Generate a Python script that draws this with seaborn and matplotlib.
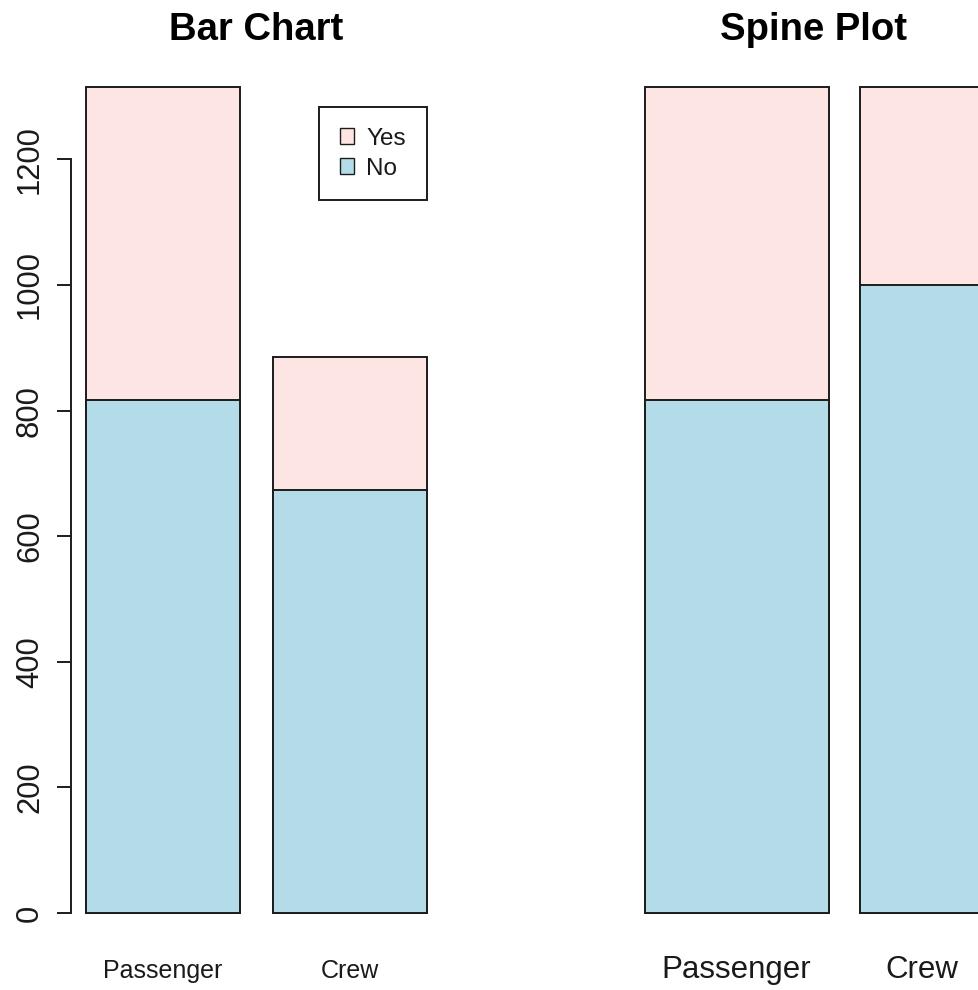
import numpy as np
import pandas as pd
import matplotlib
matplotlib.use("Agg")
import matplotlib.pyplot as plt
import seaborn as sns
from matplotlib.patches import Patch

# ---- data (Titanic: class vs survival) ----
classes = ["Passenger", "Crew"]
survived_no = [817, 673]
survived_yes = [499, 212]
legend_labels = ["Yes", "No"]
y_ticks = [0, 200, 400, 600, 800, 1000, 1200]

PINK = "#FDE5E3"
BLUE = "#B4DCE8"
EDGE = "#1c1c1c"

sns.set_style("white")
plt.rcParams["font.family"] = ["Liberation Sans", "DejaVu Sans"]
plt.rcParams["text.color"] = "black"

W, H = 979, 990
fig = plt.figure(figsize=(W / 100, H / 100), dpi=100)


def px_axes(x0, x1, y0, y1):
    return fig.add_axes([x0 / W, 1 - y1 / H, (x1 - x0) / W, (y1 - y0) / H])


ax1 = px_axes(71.4, 441.6, 53.5, 946)
ax2 = px_axes(631.0, 997, 53.5, 946)

# ---- left: stacked bar chart ----
totals = [n + y for n, y in zip(survived_no, survived_yes)]
df = pd.DataFrame({"Class": classes, "No": survived_no, "Total": totals})
common = dict(saturation=1, width=0.8235, edgecolor=EDGE, linewidth=1.4,
              errorbar=None, ax=ax1)
sns.barplot(data=df, x="Class", y="Total", color=PINK, **common)
sns.barplot(data=df, x="Class", y="No", color=BLUE, **common)
ax1.set_xlim(-0.49, 1.49)
ymax = max(totals)
ax1.set_ylim(-0.04 * ymax, 1.04 * ymax)
ax1.set_xlabel("")
ax1.set_ylabel("")
for s in ["top", "right", "bottom"]:
    ax1.spines[s].set_visible(False)
ax1.spines["left"].set_bounds(y_ticks[0], y_ticks[-1])
ax1.spines["left"].set_linewidth(1.4)
ax1.spines["left"].set_color(EDGE)
ax1.set_yticks(y_ticks)
ax1.set_yticklabels([str(t) for t in y_ticks])
ax1.tick_params(axis="y", length=10, width=1.4, color=EDGE, pad=9,
                labelsize=22.3, labelcolor="#1a1a1a", left=True)
for lab in ax1.get_yticklabels():
    lab.set_rotation(90)
    lab.set_va("center")
ax1.tick_params(axis="x", length=0, pad=9.5, labelsize=18, labelcolor="#1a1a1a")
ax1.set_title("Bar Chart", fontsize=27.5, fontweight="bold", pad=9.7,
              color="black")

handles = [Patch(facecolor=PINK, edgecolor=EDGE, linewidth=1.0),
           Patch(facecolor=BLUE, edgecolor=EDGE, linewidth=1.0)]
leg = ax1.legend(handles, legend_labels, loc="upper left",
                 bbox_to_anchor=(319 / W, 1 - 107 / H),
                 bbox_transform=fig.transFigure, frameon=True, fancybox=False,
                 edgecolor=EDGE, framealpha=1, fontsize=17.5, borderpad=0.85,
                 handlelength=0.6, handleheight=0.6, handletextpad=0.5,
                 labelspacing=0.33, borderaxespad=0, labelcolor="#1a1a1a")
leg.get_frame().set_linewidth(1.4)

# ---- right: spine plot ----
tot = np.array(totals, dtype=float)
props_no = np.array(survived_no) / tot
space = 0.2 * tot.mean()
lefts = space + np.concatenate([[0], np.cumsum(tot[:-1] + space)])
ax2.bar(lefts, np.ones_like(tot), width=tot, align="edge", color=PINK,
        edgecolor=EDGE, linewidth=1.4)
ax2.bar(lefts, props_no, width=tot, align="edge", color=BLUE,
        edgecolor=EDGE, linewidth=1.4)
lo, hi = lefts[0], lefts[-1] + tot[-1]
r = hi - lo
ax2.set_xlim(lo - 0.04 * r, hi + 0.04 * r)
ax2.set_ylim(-0.04, 1.04)
ax2.set_xticks(lefts + tot / 2)
ax2.set_xticklabels(classes)
ax2.set_yticks([])
for s in ax2.spines.values():
    s.set_visible(False)
ax2.tick_params(axis="x", length=0, pad=6.5, labelsize=22.5, labelcolor="#1a1a1a")
ax2.set_title("Spine Plot", fontsize=27.5, fontweight="bold", pad=9.7,
              color="black")

fig.savefig("out.png", dpi=100)
